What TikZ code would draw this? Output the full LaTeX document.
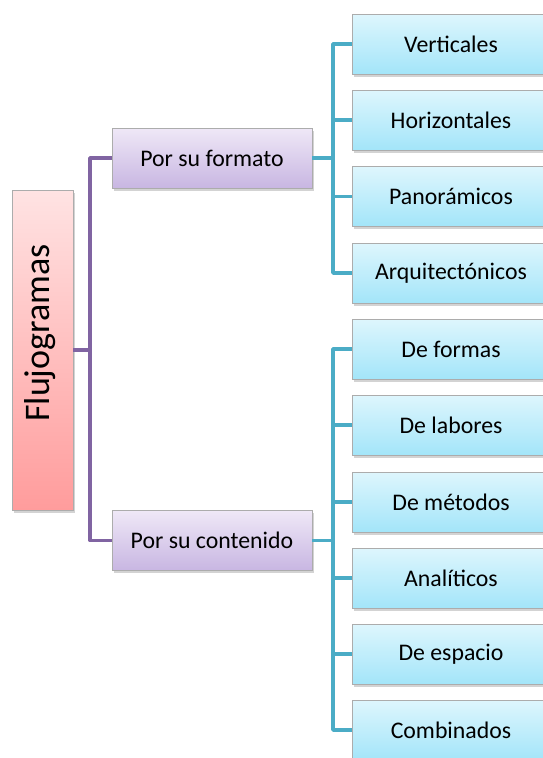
\documentclass[tikz,border=0pt]{standalone}
\usepackage{fontspec}
\setmainfont{Carlito}
\usetikzlibrary{shadows}
\definecolor{pline}{HTML}{8064A2}
\definecolor{bline}{HTML}{4BACC6}
\definecolor{pinkT}{HTML}{FFE3E3}
\definecolor{pinkB}{HTML}{FF9C9C}
\definecolor{purT}{HTML}{EFE8F7}
\definecolor{purB}{HTML}{C8B6E2}
\definecolor{bluT}{HTML}{DEF6FD}
\definecolor{bluB}{HTML}{A3E5F9}
\tikzset{
  basebox/.style={rectangle, draw=gray!65, line width=0.8pt, inner sep=0pt,
    drop shadow={opacity=0.35, shadow xshift=1.5pt, shadow yshift=-2.5pt},
    font=\fontsize{23.8}{28}\selectfont},
  flubox/.style={basebox, minimum width=61pt, minimum height=320pt,
    top color=pinkT, bottom color=pinkB},
  catbox/.style={basebox, minimum width=200pt, minimum height=60pt,
    top color=purT, bottom color=purB},
  leafbox/.style={basebox, minimum width=198pt, minimum height=60pt,
    top color=bluT, bottom color=bluB},
  plink/.style={draw=pline, line width=3.6pt, line join=round},
  blink/.style={draw=bline, line width=3.6pt, line join=round}
}
\begin{document}
\begin{tikzpicture}[x=1pt,y=-1pt]
\useasboundingbox (0,0) rectangle (543,758);
% root
\node[flubox] (flu) at (42.5,350) {};
\node[rotate=90, font=\fontsize{36}{40}\selectfont] (flutext) at (40,333) {Flujogramas};
% categories
\node[catbox] (fmt) at (212,158) {Por su formato};
\node[catbox] (cnt) at (212,540.5) {Por su contenido};
% leaves
\node[leafbox] (v1) at (451,44) {Verticales};
\node[leafbox] (v2) at (451,120) {Horizontales};
\node[leafbox] (v3) at (451,196.5) {Panorámicos};
\node[leafbox] (v4) at (451,273) {Arquitectónicos};
\node[leafbox] (c1) at (451,349) {De formas};
\node[leafbox] (c2) at (451,425) {De labores};
\node[leafbox] (c3) at (451,502) {De métodos};
\node[leafbox] (c4) at (451,578) {Analíticos};
\node[leafbox] (c5) at (451,654) {De espacio};
\node[leafbox] (c6) at (451,730) {Combinados};
% junctions
\coordinate (pj) at (90,350);
\coordinate (bj1) at (333,158);
\coordinate (bj2) at (333,540.5);
% purple connectors
\draw[plink] (flu.east) -- (pj);
\draw[plink] (fmt.west) -- (fmt.west -| pj) -- (cnt.west -| pj) -- (cnt.west);
% blue connectors, upper group
\draw[blink] (fmt.east) -- (bj1);
\draw[blink] (v1.west) -- (v1.west -| bj1) -- (v4.west -| bj1) -- (v4.west);
\draw[blink] (v2.west) -- (v2.west -| bj1);
\draw[blink] (v3.west) -- (v3.west -| bj1);
% blue connectors, lower group
\draw[blink] (cnt.east) -- (bj2);
\draw[blink] (c1.west) -- (c1.west -| bj2) -- (c6.west -| bj2) -- (c6.west);
\draw[blink] (c2.west) -- (c2.west -| bj2);
\draw[blink] (c3.west) -- (c3.west -| bj2);
\draw[blink] (c4.west) -- (c4.west -| bj2);
\draw[blink] (c5.west) -- (c5.west -| bj2);
\end{tikzpicture}
\end{document}
